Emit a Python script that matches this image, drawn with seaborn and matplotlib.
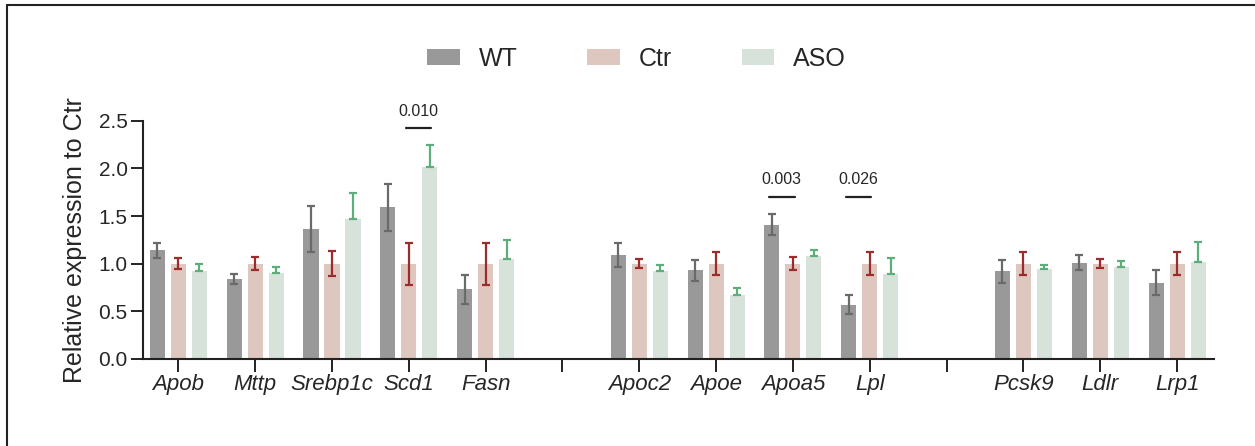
import numpy as np
import pandas as pd
import matplotlib
from matplotlib import pyplot as plt
from matplotlib.lines import Line2D
import seaborn as sns

matplotlib.use("Agg")

# Genes on the x axis, with two empty slots separating the three gene sets
genes = ['Apob', 'Mttp', 'Srebp1c', 'Scd1', 'Fasn',
         'Apoc2', 'Apoe', 'Apoa5', 'Lpl',
         'Pcsk9', 'Ldlr', 'Lrp1']
order = ['Apob', 'Mttp', 'Srebp1c', 'Scd1', 'Fasn', 'gap1',
         'Apoc2', 'Apoe', 'Apoa5', 'Lpl', 'gap2',
         'Pcsk9', 'Ldlr', 'Lrp1']
groups = ['WT', 'Ctr', 'ASO']

# Mean relative expression
wt_mean = [1.14, 0.84, 1.36, 1.59, 0.73, 1.09, 0.93, 1.41, 0.57, 0.92, 1.01, 0.80]
ctr_mean = [1.00, 1.00, 1.00, 1.00, 1.00, 1.00, 1.00, 1.00, 1.00, 1.00, 1.00, 1.00]
aso_mean = [0.92, 0.90, 1.47, 2.01, 1.05, 0.92, 0.67, 1.08, 0.89, 0.94, 0.97, 1.02]

# Error (SD / SEM)
wt_err = [0.08, 0.05, 0.24, 0.25, 0.15, 0.13, 0.11, 0.11, 0.10, 0.12, 0.08, 0.13]
ctr_err = [0.055, 0.07, 0.13, 0.22, 0.22, 0.05, 0.12, 0.07, 0.12, 0.12, 0.05, 0.12]
aso_err = [0.08, 0.07, 0.27, 0.23, 0.20, 0.07, 0.08, 0.06, 0.17, 0.05, 0.06, 0.21]

# p-value annotations: gene, compared groups, label, bracket height
sig_genes = ['Scd1', 'Apoa5', 'Lpl']
sig_pairs = [('Ctr', 'ASO'), ('WT', 'Ctr'), ('WT', 'Ctr')]
sig_labels = ['0.010', '0.003', '0.026']
sig_y = [2.42, 1.70, 1.70]

bar_colors = {'WT': '#999999', 'Ctr': '#e2c5b9', 'ASO': '#d5e4d9'}
err_colors = {'WT': '#6a6a6a', 'Ctr': '#9c2b2b', 'ASO': '#5caf7a'}

df = pd.DataFrame({
    'gene': genes * 3,
    'group': np.repeat(groups, len(genes)),
    'value': wt_mean + ctr_mean + aso_mean,
    'err': wt_err + ctr_err + aso_err,
})

sns.set_style('ticks')
plt.rcParams['font.family'] = ['Liberation Sans', 'DejaVu Sans']

fig = plt.figure(figsize=(12.55, 4.46), dpi=100)
ax = fig.add_axes([143 / 1255, 1 - 359 / 446, (1214 - 143) / 1255, (359 - 120.7) / 446])

width, gap = 0.82, 0.285
sns.barplot(data=df, x='gene', y='value', hue='group', order=order,
            hue_order=groups, palette=bar_colors, errorbar=None,
            width=width, gap=gap, linewidth=0, ax=ax)

# error bars on top of the bars
slot = width / len(groups)
for k, g in enumerate(groups):
    sub = df[df['group'] == g]
    xs = [order.index(n) + (k - 1) * slot for n in sub['gene']]
    err = sub['err'].to_numpy()
    lower = np.zeros_like(err) if g == 'ASO' else err
    ax.errorbar(xs, sub['value'], yerr=[lower, err], fmt='none',
                ecolor=err_colors[g], elinewidth=1.6, capsize=2.8,
                capthick=1.6, zorder=5)

# p-value brackets
for gene, pair, lab, y in zip(sig_genes, sig_pairs, sig_labels, sig_y):
    x1 = order.index(gene) + (groups.index(pair[0]) - 1) * slot - 0.04
    x2 = order.index(gene) + (groups.index(pair[1]) - 1) * slot + 0.02
    ax.plot([x1, x2], [y, y], color='#222222', lw=1.6, clip_on=False)
    ax.text((x1 + x2) / 2, y + 0.1, lab, ha='center', va='bottom',
            fontsize=11.5, clip_on=False)

ax.set_ylim(0, 2.5)
ax.set_yticks(np.arange(0, 2.51, 0.5))
ax.set_yticklabels([f'{v:.1f}' for v in np.arange(0, 2.51, 0.5)], fontsize=15)
ax.set_xlim(-0.46, len(order) - 0.52)
ax.set_xticks(range(len(order)))
ax.set_xticklabels(['' if o.startswith('gap') else o for o in order],
                   fontsize=16, style='italic')
ax.set_xlabel('')
ax.set_ylabel('Relative expression to Ctr', fontsize=18, labelpad=8)

sns.despine(ax=ax)
for s in ['left', 'bottom']:
    ax.spines[s].set_linewidth(1.5)
    ax.spines[s].set_color('#222222')
ax.tick_params(axis='both', length=9, width=1.4, color='#222222', pad=2)

sns.move_legend(ax, loc='center', bbox_to_anchor=(0.461, 1.26), ncol=3,
                frameon=False, title=None, fontsize=18, handlelength=1.3,
                handleheight=0.65, handletextpad=0.75, columnspacing=2.8)

# frame lines of the original panel (left and top edges)
fig.add_artist(Line2D([7 / 1255, 7 / 1255], [0, 1 - 5 / 446],
                      transform=fig.transFigure, color='#222222', lw=1.5))
fig.add_artist(Line2D([7 / 1255, 1], [1 - 5 / 446, 1 - 5 / 446],
                      transform=fig.transFigure, color='#222222', lw=1.5))

fig.savefig('out.png', dpi=100)
